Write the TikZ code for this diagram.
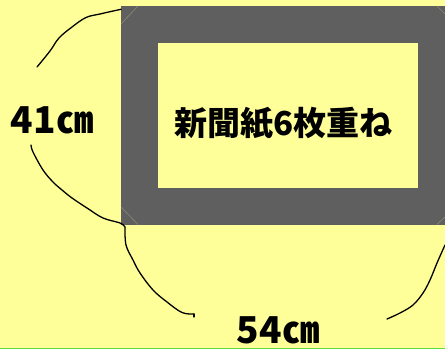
\documentclass[tikz,border=0pt]{standalone}
\usepackage{fontspec}
\newfontfamily\jp{Noto Sans CJK JP Black}
\definecolor{bgy}{HTML}{FFFF99}
\definecolor{frm}{HTML}{5F5F5F}
\definecolor{bev}{HTML}{8A8A70}
\definecolor{grn}{HTML}{5FDD3F}
\tikzset{
  dim/.style={line width=1.3pt, black, line cap=round, line join=round},
  lbl/.style={font=\jp\fontsize{33}{33}\selectfont, inner sep=0pt},
  dimlbl/.style={font=\jp\fontsize{37}{37}\selectfont, inner sep=0pt},
}
\begin{document}
\begin{tikzpicture}[x=1pt,y=-1pt]
\useasboundingbox (0,0) rectangle (445,349);
\fill[bgy] (0,0) rectangle (445,349);
\draw[grn, line width=1.2pt] (0,348.4) -- (445,348.4);
% frame
\fill[frm] (121,6) rectangle (446,224.5);
\fill[bgy] (158,43) rectangle (418,188);
\draw[bev, line width=0.6pt] (121,24) -- (138,6);
\draw[bev, line width=0.6pt] (121,207) -- (138,224.5);
\draw[bev, line width=0.6pt] (437,6) -- (446,15);
\draw[bev, line width=0.6pt] (437,224.5) -- (446,216);
% text
\node[lbl] (title) at (283.5,123.5) {新聞紙6枚重ね};
\node[dimlbl] (h) at (52,120) {41㎝};
\node[dimlbl] (w) at (278,330) {54㎝};
% dimension curves
\draw[dim] plot[smooth, tension=0.6] coordinates {(121,9.3) (110,11.7) (100,14) (86,17.5) (72,27) (59,38) (50,51) (37,67)};
\draw[dim] plot[smooth, tension=0.6] coordinates {(31,145) (33,152) (43,170) (53,182) (62,190) (72,198) (87,208) (103,218) (120,223) (125,227)};
\draw[dim] plot[smooth, tension=0.6] coordinates {(125,227) (126,245) (133,260) (140,273) (153,290) (167,302) (182,312.5) (194,314)};
\draw[dim] (194,314) -- (194,317);
\draw[dim] plot[smooth, tension=0.6] coordinates {(387,319) (400,313) (413,305) (423,293) (430,280) (437,263) (445,245)};
\end{tikzpicture}
\end{document}
